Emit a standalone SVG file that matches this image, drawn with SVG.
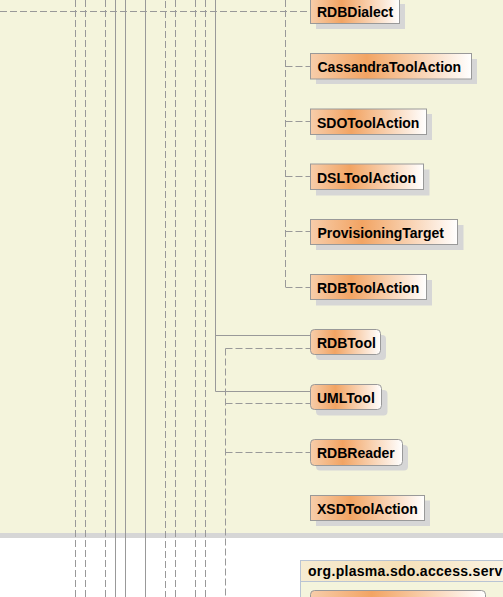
<svg xmlns="http://www.w3.org/2000/svg" width="503" height="597" viewBox="0 0 503 597">
<defs>
<linearGradient id="cls" x1="0" y1="0" x2="1" y2="0">
<stop offset="0" stop-color="#f7cdaa"/>
<stop offset="0.35" stop-color="#f2a463"/>
<stop offset="1" stop-color="#ffffff"/>
</linearGradient>
<linearGradient id="pkg" x1="0" y1="0" x2="1" y2="0">
<stop offset="0" stop-color="#f6ecd2"/>
<stop offset="0.45" stop-color="#f5e0b8"/>
<stop offset="1" stop-color="#fbf6ea"/>
</linearGradient>
<style>
.ln{stroke:#999;stroke-width:1;fill:none}
.ds{stroke-dasharray:7,3}
.box{fill:url(#cls);stroke:#999;stroke-width:1}
.sh{fill:#d6d6d6}
.t{font-family:"Liberation Sans",Arial,sans-serif;font-weight:bold;font-size:14px;fill:#000}
</style>
</defs>
<rect x="0" y="0" width="503" height="533" fill="#f4f4dc"/>
<rect x="0" y="533" width="503" height="5" fill="#d6d6d6"/>
<rect x="0" y="538" width="503" height="59" fill="#ffffff"/>
<g id="connectors">
<line class="ln ds" x1="75.5" y1="0" x2="75.5" y2="597"/>
<line class="ln ds" x1="85.5" y1="0" x2="85.5" y2="597"/>
<line class="ln ds" x1="105.5" y1="0" x2="105.5" y2="597"/>
<line class="ln" x1="115.5" y1="0" x2="115.5" y2="597"/>
<line class="ln" x1="125.5" y1="0" x2="125.5" y2="597"/>
<line class="ln" x1="145.5" y1="0" x2="145.5" y2="597"/>
<line class="ln ds" x1="165.5" y1="1" x2="165.5" y2="597"/>
<line class="ln ds" x1="175.5" y1="0" x2="175.5" y2="597"/>
<line class="ln ds" x1="195.5" y1="0" x2="195.5" y2="597"/>
<line class="ln ds" x1="205.5" y1="0" x2="205.5" y2="597"/>
<polyline class="ln" points="215.5,0 215.5,391.5 310,391.5"/>
<line class="ln" x1="215.5" y1="335.5" x2="310" y2="335.5"/>
<line class="ln ds" x1="0" y1="11.5" x2="310" y2="11.5"/>
<line class="ln ds" x1="285.5" y1="0" x2="285.5" y2="288"/>
<line class="ln ds" x1="285.5" y1="66.5" x2="310" y2="66.5"/>
<line class="ln ds" x1="285.5" y1="121.5" x2="310" y2="121.5"/>
<line class="ln ds" x1="285.5" y1="176.5" x2="310" y2="176.5"/>
<line class="ln ds" x1="285.5" y1="231.5" x2="310" y2="231.5"/>
<line class="ln ds" x1="285.5" y1="287.5" x2="310" y2="287.5"/>
<line class="ln ds" x1="225.5" y1="348.5" x2="225.5" y2="597"/>
<line class="ln ds" x1="225.5" y1="348.5" x2="310" y2="348.5"/>
<line class="ln ds" x1="225.5" y1="403.5" x2="310" y2="403.5"/>
<line class="ln ds" x1="225.5" y1="452.5" x2="310" y2="452.5"/>
</g>
<g id="RDBDialect">
<rect class="sh" x="316" y="4" width="89" height="25"/>
<rect class="box" x="310.5" y="-1.5" width="89" height="25"/>
<text class="t" x="317" y="16.5">RDBDialect</text>
</g>
<g id="CassandraToolAction">
<rect class="sh" x="316" y="59" width="161" height="25"/>
<rect class="box" x="310.5" y="53.5" width="161" height="25.5"/>
<text class="t" x="317.5" y="72">CassandraToolAction</text>
</g>
<g id="SDOToolAction">
<rect class="sh" x="316" y="114" width="116" height="26"/>
<rect class="box" x="310.5" y="109" width="116" height="25.5"/>
<text class="t" x="317" y="127.5">SDOToolAction</text>
</g>
<g id="DSLToolAction">
<rect class="sh" x="316" y="169.5" width="113.5" height="26"/>
<rect class="box" x="310.5" y="164" width="113" height="25.5"/>
<text class="t" x="317" y="182.5">DSLToolAction</text>
</g>
<g id="ProvisioningTarget">
<rect class="sh" x="316" y="225" width="147.5" height="25"/>
<rect class="box" x="310.5" y="219.5" width="147" height="25"/>
<text class="t" x="317.5" y="238">ProvisioningTarget</text>
</g>
<g id="RDBToolAction">
<rect class="sh" x="316" y="280" width="116" height="25.5"/>
<rect class="box" x="310.5" y="274.5" width="116" height="25"/>
<text class="t" x="317" y="293">RDBToolAction</text>
</g>
<g id="RDBTool">
<rect class="sh" x="316" y="335" width="70" height="25" rx="4"/>
<rect class="box" x="310.5" y="329.5" width="70" height="25" rx="4"/>
<text class="t" x="317" y="348">RDBTool</text>
</g>
<g id="UMLTool">
<rect class="sh" x="316" y="390" width="71.5" height="25.5" rx="4"/>
<rect class="box" x="310.5" y="384.5" width="71" height="25" rx="4"/>
<text class="t" x="317" y="403">UMLTool</text>
</g>
<g id="RDBReader">
<rect class="sh" x="316" y="445" width="92" height="25.5" rx="4"/>
<rect class="box" x="310.5" y="439.5" width="92" height="26" rx="4"/>
<text class="t" x="317" y="458">RDBReader</text>
</g>
<g id="XSDToolAction">
<rect class="sh" x="316" y="500.5" width="114" height="25.5"/>
<rect class="box" x="310.5" y="495.5" width="114" height="25"/>
<text class="t" x="317" y="513.5">XSDToolAction</text>
</g>
<g id="pkg-org.plasma.sdo.access.service">
<rect x="300.5" y="560.5" width="220" height="50" fill="#f4f4dc" stroke="#b9c4d4" stroke-width="1"/>
<rect x="300.5" y="560.5" width="220" height="21" fill="url(#pkg)" stroke="#b9c4d4" stroke-width="1"/>
<text class="t" x="308" y="576" letter-spacing="0.3">org.plasma.sdo.access.serv</text>
<rect class="box" x="310.5" y="590.5" width="175" height="25" rx="4"/>
</g>
</svg>
